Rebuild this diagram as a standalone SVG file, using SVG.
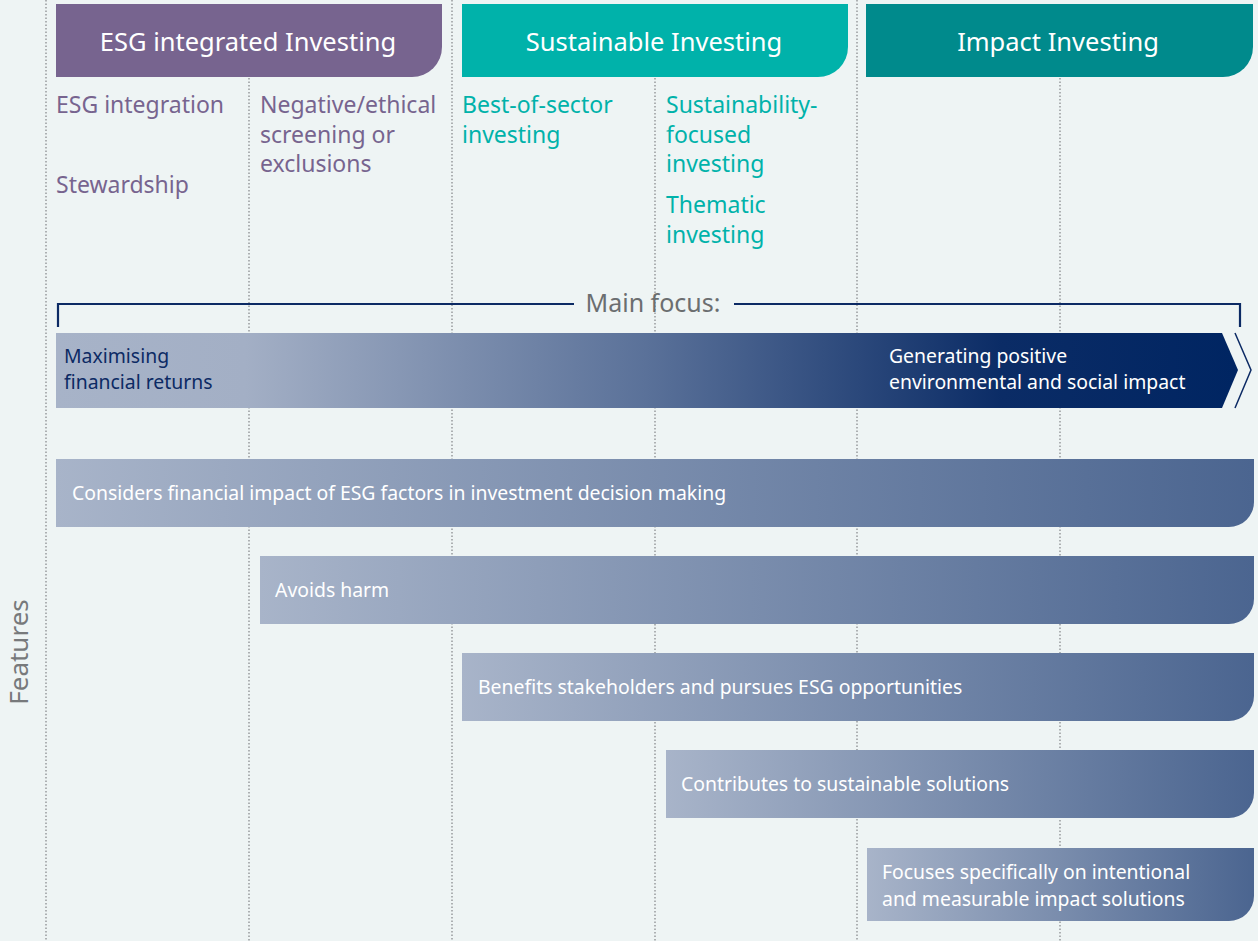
<svg xmlns="http://www.w3.org/2000/svg" width="1258" height="941" viewBox="0 0 1258 941">
<defs>
<style>
.grid{stroke:#8a8d90;stroke-width:1.3;stroke-dasharray:1.5 2;fill:none}
.hdr{font-family:"Noto Sans",sans-serif;font-size:25.5px;fill:#ffffff;text-anchor:middle}
.sub{font-family:"Noto Sans",sans-serif;font-size:23px}
.pur{fill:#77648f}
.tea{fill:#00b2aa}
.feat{font-family:"Noto Sans",sans-serif;font-size:19.4px;fill:#ffffff}
.focus{font-family:"Noto Sans",sans-serif;font-size:19.4px}
</style>
<linearGradient id="gArrow" x1="56" y1="0" x2="1238" y2="0" gradientUnits="userSpaceOnUse">
<stop offset="0" stop-color="#a7b3c8"/>
<stop offset="0.16" stop-color="#a3afc5"/>
<stop offset="0.5" stop-color="#5a7199"/>
<stop offset="0.8" stop-color="#0b2c66"/>
<stop offset="1" stop-color="#002562"/>
</linearGradient>
<linearGradient id="gBar" x1="0" y1="0" x2="1" y2="0">
<stop offset="0" stop-color="#a8b4c9"/>
<stop offset="1" stop-color="#4b6590"/>
</linearGradient>
</defs>
<rect width="1258" height="941" fill="#eef4f4"/>
<g id="gridlines">
<line class="grid" x1="46" y1="0" x2="46" y2="941"/>
<line class="grid" x1="249" y1="78" x2="249" y2="941"/>
<line class="grid" x1="452" y1="0" x2="452" y2="941"/>
<line class="grid" x1="655" y1="78" x2="655" y2="941"/>
<line class="grid" x1="857" y1="0" x2="857" y2="941"/>
<line class="grid" x1="1060" y1="78" x2="1060" y2="941"/>
</g>
<g id="hdr-esg">
<path d="M56 4 H442 V47 A30 30 0 0 1 412 77 H56 Z" fill="#77648f"/>
<text class="hdr" x="248" y="51">ESG integrated Investing</text>
</g>
<g id="hdr-sust">
<path d="M462 4 H848 V47 A30 30 0 0 1 818 77 H462 Z" fill="#00b2aa"/>
<text class="hdr" x="654" y="51">Sustainable Investing</text>
</g>
<g id="hdr-impact">
<path d="M866 4 H1253 V47 A30 30 0 0 1 1223 77 H866 Z" fill="#008a8c"/>
<text class="hdr" x="1058" y="51">Impact Investing</text>
</g>
<g id="sub-esg-integration"><text class="sub pur" x="56" y="113">ESG integration</text></g>
<g id="sub-stewardship"><text class="sub pur" x="56" y="193">Stewardship</text></g>
<g id="sub-negative"><text class="sub pur" x="260" y="113">Negative/ethical<tspan x="260" dy="29.5">screening or</tspan><tspan x="260" dy="29.5">exclusions</tspan></text></g>
<g id="sub-best"><text class="sub tea" x="462" y="113">Best-of-sector<tspan x="462" dy="29.5">investing</tspan></text></g>
<g id="sub-focused"><text class="sub tea" x="666" y="113">Sustainability-<tspan x="666" dy="29.5">focused</tspan><tspan x="666" dy="29.5">investing</tspan></text></g>
<g id="sub-thematic"><text class="sub tea" x="666" y="213">Thematic<tspan x="666" dy="29.5">investing</tspan></text></g>
<g id="main-focus">
<path d="M58 327 V304 H574 M734 304 H1240 V327" fill="none" stroke="#0c2a64" stroke-width="2.2"/>
<text x="653" y="312" font-family="Noto Sans,sans-serif" font-size="25" fill="#6b6e70" text-anchor="middle">Main focus:</text>
</g>
<g id="focus-arrow">
<path d="M56 333 H1222 L1238 370 L1222 408 H56 Z" fill="url(#gArrow)"/>
<path d="M1235 333 L1251 370 L1235 408" fill="none" stroke="#0c2a64" stroke-width="1.5"/>
<text class="focus" x="64" y="363" fill="#0c2a64">Maximising<tspan x="64" dy="26">financial returns</tspan></text>
<text class="focus" x="889" y="363" fill="#ffffff">Generating positive<tspan x="889" dy="26">environmental and social impact</tspan></text>
</g>
<g id="feat-1">
<path d="M56 459 H1254 V502 A25 25 0 0 1 1229 527 H56 Z" fill="url(#gBar)"/>
<text class="feat" x="72" y="500">Considers financial impact of ESG factors in investment decision making</text>
</g>
<g id="feat-2">
<path d="M260 556 H1254 V599 A25 25 0 0 1 1229 624 H260 Z" fill="url(#gBar)"/>
<text class="feat" x="275" y="597">Avoids harm</text>
</g>
<g id="feat-3">
<path d="M462 653 H1254 V696 A25 25 0 0 1 1229 721 H462 Z" fill="url(#gBar)"/>
<text class="feat" x="478" y="694">Benefits stakeholders and pursues ESG opportunities</text>
</g>
<g id="feat-4">
<path d="M666 750 H1254 V793 A25 25 0 0 1 1229 818 H666 Z" fill="url(#gBar)"/>
<text class="feat" x="681" y="791">Contributes to sustainable solutions</text>
</g>
<g id="feat-5">
<path d="M867 848 H1254 V896 A25 25 0 0 1 1229 921 H867 Z" fill="url(#gBar)"/>
<text class="feat" x="882" y="879">Focuses specifically on intentional<tspan x="882" dy="27">and measurable impact solutions</tspan></text>
</g>
<g id="features-label">
<text x="0" y="0" transform="translate(28 652) rotate(-90)" font-family="Noto Sans,sans-serif" font-size="26" fill="#77797b" text-anchor="middle">Features</text>
</g>
</svg>
